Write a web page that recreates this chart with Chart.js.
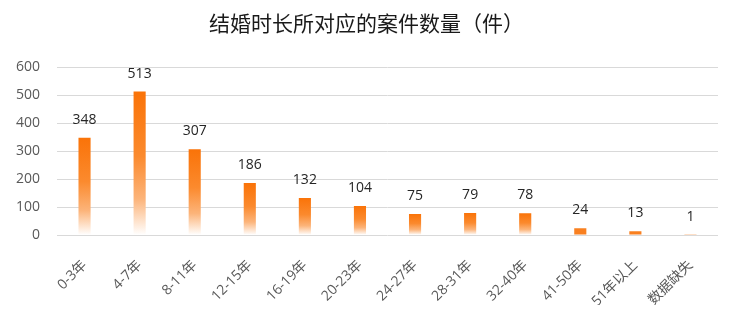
<!DOCTYPE html>
<html><head><meta charset="utf-8">
<script src="https://cdn.jsdelivr.net/npm/chart.js@4/dist/chart.umd.min.js"></script>
<style>html,body{margin:0;padding:0;background:#fff;}#wrap{width:743px;height:318px;}</style>
</head><body><div id="wrap"><canvas id="c"></canvas></div>
<script>
const categories = ['0-3年','4-7年','8-11年','12-15年','16-19年','20-23年','24-27年','28-31年','32-40年','41-50年','51年以上','数据缺失'];
const caseCounts = [348,513,307,186,132,104,75,79,78,24,13,1];
const yTicks = [0,100,200,300,400,500,600];
const titleText = '结婚时长所对应的案件数量（件）';

const valueLabels = {
  id:'valueLabels',
  afterDatasetsDraw(chart){
    const {ctx} = chart;
    const meta = chart.getDatasetMeta(0);
    ctx.save();
    ctx.font = '14px "Open Sans", "Liberation Sans", sans-serif';
    ctx.fillStyle = '#262626';
    ctx.textAlign = 'center';
    ctx.textBaseline = 'middle';
    meta.data.forEach((el,i)=>{
      ctx.fillText(String(caseCounts[i]), el.x, el.y - 18);
    });
    ctx.restore();
  }
};

new Chart(document.getElementById('c'), {
  type:'bar',
  data:{labels:categories, datasets:[{
    data:caseCounts,
    backgroundColor(c){
      const chart=c.chart; const {ctx, chartArea, scales}=chart;
      if(!chartArea || c.dataIndex===undefined) return '#F97A12';
      const v = caseCounts[c.dataIndex];
      const top = scales.y.getPixelForValue(v);
      const bot = scales.y.getPixelForValue(0);
      if (bot - top < 10) return '#F98020';
      const g = ctx.createLinearGradient(0, top, 0, bot);
      g.addColorStop(0,'#FA7308');
      g.addColorStop(0.45,'#FB8A2E');
      g.addColorStop(0.75,'#FCB47A');
      g.addColorStop(1,'#FFFFFF');
      return g;
    },
    borderWidth:0,
    barPercentage:0.22,
    categoryPercentage:1
  }]},
  options:{
    responsive:true, maintainAspectRatio:false, animation:false,
    layout:{padding:{left:15,right:25,top:4,bottom:13}},
    plugins:{
      legend:{display:false}, tooltip:{enabled:false},
      title:{display:true,text:titleText,color:'#1a1a1a',font:{family:'"Noto Sans CJK SC", sans-serif',size:21,weight:'normal'},padding:{top:6,bottom:32}}
    },
    scales:{
      y:{min:0,max:600,
        afterBuildTicks(ax){ax.ticks = yTicks.map(v=>({value:v}));},
        afterFit(ax){ax.width = 42;},
        ticks:{color:'#595959',font:{family:'"Open Sans", "Liberation Sans", sans-serif',size:14},padding:17},
        grid:{color:'#d9d9d9',drawTicks:false,lineWidth:1},
        border:{display:false}
      },
      x:{
        afterFit(ax){ax.paddingLeft = 0; ax.paddingBottom = 0; ax.height = 70;},
        ticks:{color:'#595959',font:{family:'"Open Sans", "Noto Sans CJK SC", sans-serif',size:14},minRotation:45,maxRotation:45,padding:14},
        grid:{display:false},
        border:{display:false}
      }
    }
  },
  plugins:[valueLabels]
});
</script></body></html>
